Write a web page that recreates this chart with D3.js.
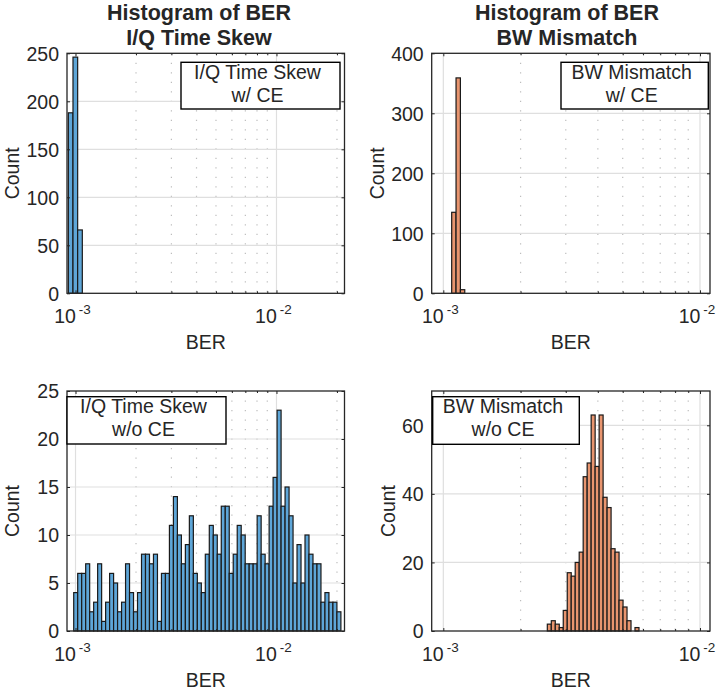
<!DOCTYPE html>
<html>
<head>
<meta charset="utf-8">
<script src="https://cdn.jsdelivr.net/npm/d3@7"></script>
<style>
  body { margin: 0; background: #fff; }
  text { font-family: "Liberation Sans", Arial, Helvetica, sans-serif; fill: #262626; }
</style>
</head>
<body>
<script>
// bin counts (left to right)
const iqCeCounts = [188, 246, 66];
const bwCeCounts = [135, 359, 6];
const iqNoCeCounts = [4, 6, 6, 7, 2, 3, 7, 1, 3, 6, 5, 2, 3, 7, 4, 2, 4, 8, 8, 7,
                      8, 1, 6, 6, 11, 14, 10, 7, 9, 12, 6, 5, 4, 8, 11, 10, 8, 13, 13, 6,
                      8, 11, 10, 7, 7, 7, 12, 8, 7, 13, 16, 23, 13, 15, 12, 5, 9, 5, 10, 8,
                      7, 7, 3, 4, 3, 3, 2];
const bwNoCeCounts = [2, 3, 2, 1, 6, 17, 16, 20, 23, 45, 49, 63, 48, 63, 39, 36, 24, 23, 9, 7, 3, 0, 1];

// first and last bin edge (BER), bins are equal on log scale
const iqCeEdges = [9.21e-4, 1.081e-3];
const bwCeEdges = [1.078e-3, 1.212e-3];
const iqNoCeEdges = [9.795e-4, 2.092e-2];
const bwNoCeEdges = [2.542e-3, 5.785e-3];

// axis limits
const xLimIq = [9.07e-4, 2.18e-2];
const xLimBw = [9.01e-4, 1.094e-2];
const iqCeYTicks = [0, 50, 100, 150, 200, 250];
const bwCeYTicks = [0, 100, 200, 300, 400];
const iqNoCeYTicks = [0, 5, 10, 15, 20, 25];
const bwNoCeYTicks = [0, 20, 40, 60];
const yMax = [250, 400, 25, 70];
const xTickExps = [-3, -2];

// texts
const titleIq = ["Histogram of BER", "I/Q Time Skew"];
const titleBw = ["Histogram of BER", "BW Mismatch"];
const legendTexts = [["I/Q Time Skew", "w/ CE"], ["BW Mismatch", "w/ CE"],
                     ["I/Q Time Skew", "w/o CE"], ["BW Mismatch", "w/o CE"]];

const blue = "#5ea6d8", orange = "#e8956f";
const W = 723, H = 690;

const svg = d3.select("body").append("svg").attr("width", W).attr("height", H);

// layout (pixels)
const cols = [{left: 67, right: 344.5}, {left: 431.7, right: 710}];
const rows = [{top: 53.3, bottom: 293.3}, {top: 391, bottom: 631}];

const panels = [
  {col: 0, row: 0, counts: iqCeCounts, edges: iqCeEdges, xLim: xLimIq, yTicks: iqCeYTicks, yMax: yMax[0],
   color: blue, title: titleIq, titleX: 199, legend: legendTexts[0], box: [181, 62.3, 159, 46.7]},
  {col: 1, row: 0, counts: bwCeCounts, edges: bwCeEdges, xLim: xLimBw, yTicks: bwCeYTicks, yMax: yMax[1],
   color: orange, title: titleBw, titleX: 567, legend: legendTexts[1], box: [561, 62.3, 147.3, 46.7]},
  {col: 0, row: 1, counts: iqNoCeCounts, edges: iqNoCeEdges, xLim: xLimIq, yTicks: iqNoCeYTicks, yMax: yMax[2],
   color: blue, title: null, legend: legendTexts[2], box: [67, 396.7, 159, 47.3], yLabX: 18.8},
  {col: 1, row: 1, counts: bwNoCeCounts, edges: bwNoCeEdges, xLim: xLimBw, yTicks: bwNoCeYTicks, yMax: yMax[3],
   color: orange, title: null, legend: legendTexts[3], box: [432.7, 396.7, 146.6, 47.6]}
];

function drawPanel(p) {
  const {left, right} = cols[p.col];
  const {top, bottom} = rows[p.row];
  const x = d3.scaleLog().domain(p.xLim).range([left, right]);
  const y = d3.scaleLinear().domain([0, p.yMax]).range([bottom, top]);
  const g = svg.append("g");

  // minor log positions inside the limits
  const minor = [];
  for (let e = -4; e <= -1; e++)
    for (let k = 2; k <= 9; k++) {
      const v = k * Math.pow(10, e);
      if (v > p.xLim[0] && v < p.xLim[1]) minor.push(v);
    }
  const majors = xTickExps.map(e => Math.pow(10, e));

  // grid
  g.selectAll(".mgx").data(minor).join("line")
    .attr("x1", d => x(d)).attr("x2", d => x(d))
    .attr("y1", top).attr("y2", bottom)
    .attr("stroke", "#bdbdbd").attr("stroke-width", 1.2)
    .attr("stroke-dasharray", "1.3,8.2");
  g.selectAll(".gx").data(majors).join("line")
    .attr("x1", d => x(d)).attr("x2", d => x(d))
    .attr("y1", top).attr("y2", bottom)
    .attr("stroke", "#dfdfdf").attr("stroke-width", 1.2);
  g.selectAll(".gy").data(p.yTicks.filter(v => v > 0 && v < p.yMax)).join("line")
    .attr("x1", left).attr("x2", right)
    .attr("y1", d => y(d)).attr("y2", d => y(d))
    .attr("stroke", "#dfdfdf").attr("stroke-width", 1.2);

  // bars
  const n = p.counts.length;
  const l0 = Math.log10(p.edges[0]), l1 = Math.log10(p.edges[1]);
  const bins = p.counts.map((c, i) => ({
    c: c,
    x0: Math.pow(10, l0 + (l1 - l0) * i / n),
    x1: Math.pow(10, l0 + (l1 - l0) * (i + 1) / n)
  })).filter(b => b.c > 0);
  g.selectAll(".bar").data(bins).join("rect")
    .attr("x", d => x(d.x0))
    .attr("width", d => x(d.x1) - x(d.x0))
    .attr("y", d => y(d.c))
    .attr("height", d => bottom - y(d.c))
    .attr("fill", p.color)
    .attr("stroke", "#1a1a1a").attr("stroke-width", 1.2);

  // ticks on all four sides, pointing in
  const tickStyle = sel => {
    sel.select(".domain").remove();
    sel.selectAll(".tick line").attr("stroke", "#262626").attr("stroke-width", 1);
  };
  const yl = g.append("g").attr("transform", `translate(${left},0)`)
    .call(d3.axisLeft(y).tickValues(p.yTicks).tickSize(-3).tickPadding(8));
  tickStyle(yl);
  yl.selectAll(".tick text").attr("font-size", 19.5).attr("fill", "#262626")
    .attr("font-family", "Liberation Sans, Arial, sans-serif").attr("dy", "0.35em");
  g.append("g").attr("transform", `translate(${right},0)`)
    .call(d3.axisRight(y).tickValues(p.yTicks).tickSize(-3).tickFormat(""))
    .call(tickStyle);
  [[bottom, d3.axisBottom], [top, d3.axisTop]].forEach(([yy, ax]) => {
    g.append("g").attr("transform", `translate(0,${yy})`)
      .call(ax(x).tickValues(majors).tickSize(-3).tickFormat(""))
      .call(tickStyle);
    g.append("g").attr("transform", `translate(0,${yy})`)
      .call(ax(x).tickValues(minor).tickSize(-2).tickFormat(""))
      .call(tickStyle);
  });

  // x tick labels 10^e
  const xl = g.selectAll(".xl").data(xTickExps).join("text")
    .attr("x", d => x(Math.pow(10, d)) - 3)
    .attr("y", bottom + 30)
    .attr("text-anchor", "middle")
    .attr("font-size", 19.5);
  xl.append("tspan").text("10");
  xl.append("tspan").attr("dx", 3).attr("dy", -9).attr("font-size", 13.5).text(d => String(d));

  // box
  g.append("rect").attr("x", left).attr("y", top)
    .attr("width", right - left).attr("height", bottom - top)
    .attr("fill", "none").attr("stroke", "#262626").attr("stroke-width", 1.3);

  // axis labels
  g.append("text").attr("x", (left + right) / 2).attr("y", bottom + 56)
    .attr("text-anchor", "middle").attr("font-size", 19.5).text("BER");
  const bb = yl.node().getBBox();
  const yLabX = p.yLabX != null ? p.yLabX : left + bb.x - 7;
  g.append("text")
    .attr("transform", `translate(${yLabX},${(top + bottom) / 2}) rotate(-90)`)
    .attr("text-anchor", "middle").attr("font-size", 19.5).text("Count");

  // title
  if (p.title) {
    g.selectAll(".ti").data(p.title).join("text")
      .attr("x", p.titleX).attr("y", (d, i) => 20 + i * 24.5)
      .attr("text-anchor", "middle").attr("font-size", 21.5).attr("font-weight", "bold")
      .attr("fill", "#000").text(d => d);
  }

  // text box
  const [bx, by, bw, bh] = p.box;
  g.append("rect").attr("x", bx).attr("y", by).attr("width", bw).attr("height", bh)
    .attr("fill", "#fff").attr("stroke", "#000").attr("stroke-width", 1.4);
  g.selectAll(".lg").data(p.legend).join("text")
    .attr("x", bx + bw / 2 - 3).attr("y", (d, i) => by + 16.7 + i * 23)
    .attr("text-anchor", "middle").attr("font-size", 19.5).attr("fill", "#000")
    .text(d => d);
}

panels.forEach(drawPanel);
</script>
</body>
</html>
